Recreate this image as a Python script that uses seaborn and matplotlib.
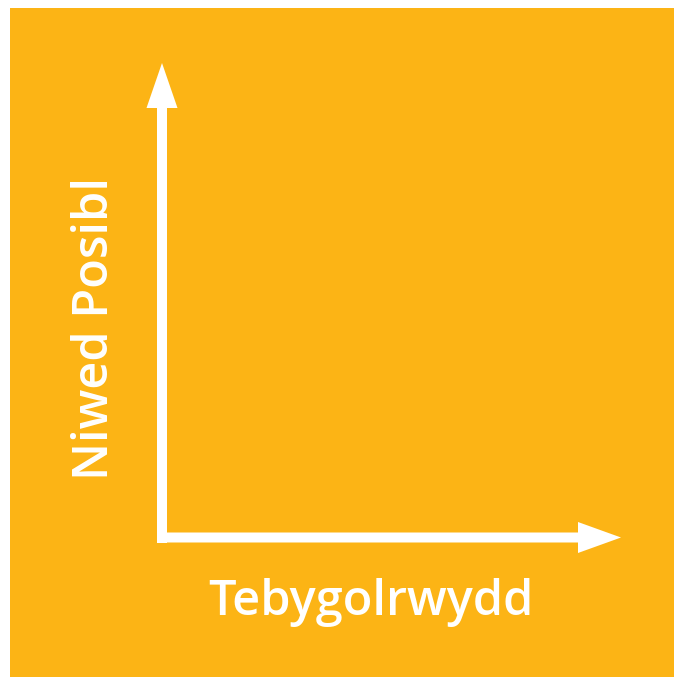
import matplotlib
matplotlib.use("Agg")
import matplotlib.pyplot as plt
import seaborn as sns

# Chart content
x_label = "Tebygolrwydd"
y_label = "Niwed Posibl"
bg_color = "#FCB415"

sns.set_theme(style="white")
plt.rcParams['font.family'] = ['Open Sans', 'DejaVu Sans']

W, H = 674, 677
fig = plt.figure(figsize=(W / 100, H / 100), dpi=100)
fig.patch.set_facecolor("white")
ax = fig.add_axes([10 / W, 0, (W - 10) / W, (H - 8) / H])
ax.set_facecolor(bg_color)
ax.set_xlim(10, 674)
ax.set_ylim(677, 8)
ax.set_aspect("auto")
for s in ax.spines.values():
    s.set_visible(False)
ax.set_xticks([])
ax.set_yticks([])

# Axis arrows (pixel coordinates)
ax.arrow(162, 543, 0, 63 - 543, width=10, head_width=31, head_length=45,
         length_includes_head=True, color="white", linewidth=0)
ax.arrow(157, 537.5, 621 - 157, 0, width=10, head_width=31, head_length=43,
         length_includes_head=True, color="white", linewidth=0)

ax.text(371, 615, x_label, ha="center", va="baseline", color="white",
        fontsize=35, fontweight="semibold")
ax.text(108, 328, y_label, ha="center", va="baseline", rotation=90,
        rotation_mode="anchor", color="white", fontsize=35, fontweight="semibold")

fig.savefig("out.png", dpi=100, facecolor="white")
